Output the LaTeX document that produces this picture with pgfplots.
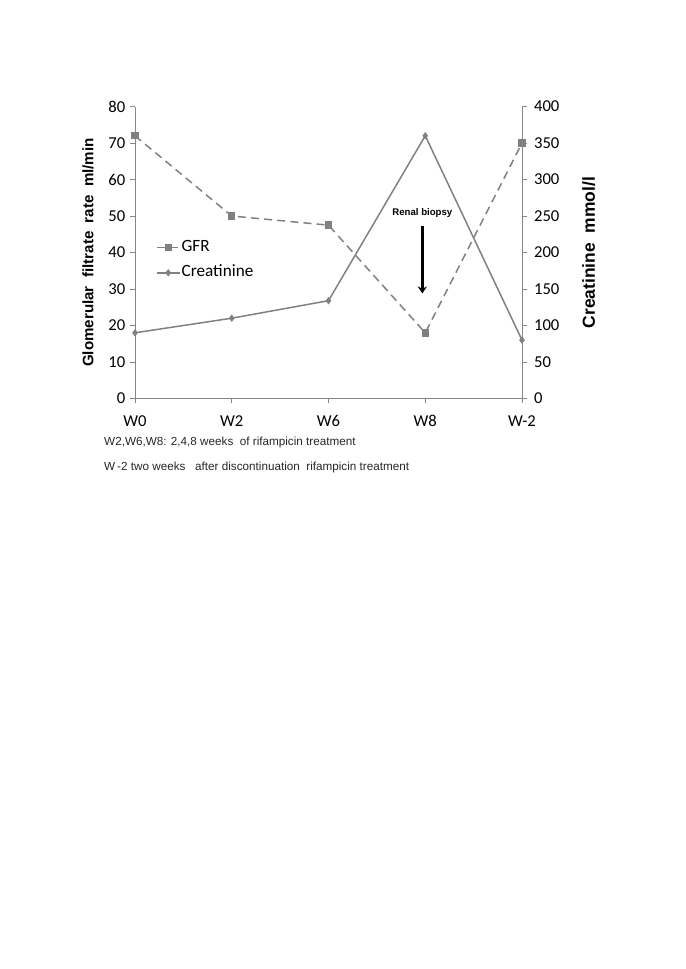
\documentclass[border=0pt]{standalone}
\usepackage{pgfplots}
\pgfplotsset{compat=1.18}
\usetikzlibrary{arrows.meta}
\usepackage{fontspec}
\setmainfont{Liberation Sans}
\newfontfamily\carl{Carlito}
\definecolor{ser}{RGB}{128,128,128}
\definecolor{axg}{RGB}{134,134,134}
\begin{document}
\begin{tikzpicture}
\path[use as bounding box] (0,0) rectangle (597.4pt,-845pt);
\begin{axis}[
  at={(117.7pt,-347.5pt)}, anchor=south west,
  scale only axis, width=337.5pt, height=254.6pt,
  xmin=0, xmax=4, ymin=0, ymax=80,
  axis x line*=bottom, axis y line*=left,
  axis line style={axg, line width=0.8pt, -},
  xtick={0,1,2,3,4}, xticklabels={W0,W2,W6,W8,W-2},
  ytick={0,10,...,80},
  tick style={axg, line width=0.8pt},
  tick align=outside, major tick length=4pt,
  xtick pos=bottom, ytick pos=left,
  tick label style={font=\carl\fontsize{14.5}{16}\selectfont},
  /pgf/number format/assume math mode=true,
  xticklabel style={anchor=base, yshift=-20pt},
  yticklabel style={xshift=-1pt},
  ylabel={\bfseries Glomerular\ \ filtrate\ \ rate\ \ ml/min},
  ylabel style={font=\fontsize{13.2}{15}\selectfont, yshift=6pt},
  clip=false,
  legend style={at={(0.045,0.555)}, anchor=north west, draw=none, fill=none,
    font=\carl\fontsize{15}{17}\selectfont, row sep=7pt,
    nodes={inner sep=1pt, text height=10pt, text depth=3pt},
    legend cell align=left},
  legend image code/.code={
    \draw[#1] (0pt,0pt) -- (20pt,0pt);
    \draw[#1, solid] plot coordinates {(10pt,0pt)};
  },
]
\addplot[ser, line width=1.3pt, dash pattern=on 7pt off 4.5pt,
  mark=square*, mark size=2.6pt, mark options={solid, fill=ser}]
  coordinates {(0,72) (1,50) (2,47.5) (3,18) (4,70)};
\addlegendentry{GFR}
\addlegendimage{ser, line width=1.3pt, mark=diamond*, mark size=2.2pt, mark options={fill=ser}}
\addlegendentry{Creatinine}
\draw[black, line width=3.2pt, -{Stealth[length=6pt,width=8pt]}]
  (axis cs:2.97,47.3) -- (axis cs:2.97,28.8);
\node[font=\bfseries\fontsize{8.4}{9}\selectfont] at (axis cs:2.97,50.8) {Renal biopsy};
\end{axis}
\begin{axis}[
  at={(117.7pt,-347.5pt)}, anchor=south west,
  scale only axis, width=337.5pt, height=254.6pt,
  xmin=0, xmax=4, ymin=0, ymax=400,
  hide x axis,
  axis y line*=right,
  axis line style={axg, line width=0.8pt, -},
  ytick={0,50,...,400},
  tick style={axg, line width=0.8pt},
  tick align=outside, major tick length=4pt,
  tick label style={font=\carl\fontsize{14.5}{16}\selectfont},
  /pgf/number format/assume math mode=true,
  yticklabel style={xshift=3pt},
  ylabel={\bfseries Creatinine\ \ mmol/l},
  ylabel style={font=\fontsize{15.2}{17}\selectfont, yshift=-13pt},
  clip=false,
]
\addplot[ser, line width=1.3pt, mark=diamond*, mark size=2.2pt, mark options={fill=ser}]
  coordinates {(0,90) (1,110) (2,134) (3,360) (4,80)};
\end{axis}
\node[anchor=west, inner sep=0pt, font=\fontsize{10.2}{11}\selectfont, text=black!85] at (90.7pt,-385.5pt)
  {W2,W6,W8: 2,4,8 weeks\ \ of rifampicin treatment};
\node[anchor=west, inner sep=0pt, font=\fontsize{10.2}{11}\selectfont, text=black!85] at (90.7pt,-408pt)
  {W\,-2 two weeks\ \ \ after discontinuation\ \ rifampicin treatment};
\end{tikzpicture}
\end{document}
